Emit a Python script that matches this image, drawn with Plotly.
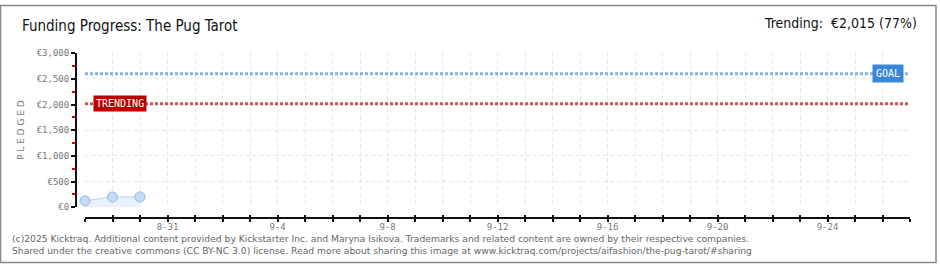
import plotly.graph_objects as go

dates = ["2025-08-28", "2025-08-29", "2025-08-30"]
pledged = [125, 200, 202]
goal = 2600
trending = 2015
x_start = "2025-08-28"
x_end = "2025-09-27"
tick_days = ["2025-08-31", "2025-09-04", "2025-09-08", "2025-09-12", "2025-09-16", "2025-09-20", "2025-09-24"]
tick_labels = ["8-31", "9-4", "9-8", "9-12", "9-16", "9-20", "9-24"]
y_ticks = [0, 500, 1000, 1500, 2000, 2500, 3000]
y_labels = ["€0", "€500", "€1,000", "€1,500", "€2,000", "€2,500", "€3,000"]
y_minor = [250, 750, 1250, 1750, 2250, 2750]

W, H = 940, 270
xd = [85 / W, 910 / W]
yd = [(H - 210) / H, (H - 50) / H]
xpos = (H - 221) / H
ypos = 76 / W
tickfont = dict(family="DejaVu Sans Mono", size=9, color="#777")

fig = go.Figure()
fig.add_trace(go.Scatter(
    x=[x_start, x_end], y=[goal, goal], mode="lines",
    line=dict(color="#7fb3ea", width=3, dash="3px,2px"), hoverinfo="skip"))
fig.add_trace(go.Scatter(
    x=[x_start, x_end], y=[trending, trending], mode="lines",
    line=dict(color="#c85858", width=3, dash="3px,2px"), hoverinfo="skip"))
fig.add_trace(go.Scatter(
    x=dates, y=pledged, mode="lines+markers", fill="tozeroy",
    fillcolor="rgba(205,225,248,0.45)", cliponaxis=False,
    line=dict(color="#b9d5f2", width=1),
    marker=dict(size=10, color="#c6dcf5", line=dict(color="#93b8e3", width=1))))

fig.update_layout(
    width=W, height=H, margin=dict(l=0, r=0, t=0, b=0),
    paper_bgcolor="white", plot_bgcolor="white", showlegend=False,
    xaxis=dict(domain=xd, range=[x_start, x_end], type="date",
               anchor="free", position=xpos,
               tickmode="array", tickvals=tick_days, ticktext=tick_labels,
               ticks="", showline=True, linecolor="#111", linewidth=2,
               tickfont=tickfont, showgrid=False, zeroline=False,
               minor=dict(dtick=86400000, tick0=x_start, ticks="outside",
                          ticklen=3, tickcolor="#111", tickwidth=1.5,
                          showgrid=True, gridcolor="#e6e6e6", griddash="4px,3px", gridwidth=1)),
    xaxis2=dict(domain=xd, range=[x_start, x_end], type="date", overlaying="x",
                anchor="free", position=xpos, showticklabels=False,
                ticks="inside", ticklen=3, tickcolor="#111", tickwidth=1.5,
                dtick=86400000, tick0=x_start, showgrid=False, showline=False, zeroline=False),
    yaxis=dict(domain=yd, range=[0, 3000], anchor="free", position=ypos,
               tickmode="array", tickvals=y_ticks, ticktext=y_labels,
               ticks="outside", ticklen=4, tickcolor="#111", tickwidth=1.5,
               showline=True, linecolor="#111", linewidth=2,
               tickfont=tickfont, showgrid=True, gridcolor="#e6e6e6", griddash="4px,3px",
               zeroline=False,
               title=dict(text="P L E D G E D", font=dict(family="DejaVu Sans", size=9, color="#777"), standoff=10),
               minor=dict(tickmode="array", tickvals=y_minor, ticks="outside", ticklen=3, tickcolor="#e00000",
                          tickwidth=1.5, showgrid=False)),
)
fig.add_trace(go.Scatter(x=[x_start], y=[None], xaxis="x2", hoverinfo="skip", showlegend=False))

fig.add_annotation(xref="paper", yref="paper", x=20 / W, y=1 - 22 / H, xanchor="left", yanchor="middle",
                   text="Funding Progress: The Pug Tarot", showarrow=False,
                   font=dict(family="DejaVu Sans Condensed", size=15, color="#111"))
fig.add_annotation(xref="paper", yref="paper", x=919 / W, y=1 - 19 / H, xanchor="right", yanchor="middle",
                   text="Trending:  €2,015 (77%)", showarrow=False,
                   font=dict(family="DejaVu Sans Condensed", size=14, color="#111"))
fig.add_annotation(xref="paper", yref="y", x=888 / W, y=goal, xanchor="center", yanchor="middle",
                   text="GOAL", showarrow=False, bgcolor="#3a87d8", borderpad=3,
                   font=dict(family="DejaVu Sans Mono", size=10, color="white"))
fig.add_annotation(xref="paper", yref="y", x=120 / W, y=trending, xanchor="center", yanchor="middle",
                   text="TRENDING", showarrow=False, bgcolor="#bb0000", borderpad=2,
                   font=dict(family="DejaVu Sans Mono", size=10, color="white"))
footer = ("(c)2025 Kicktraq. Additional content provided by Kickstarter Inc. and Maryna Isikova. "
          "Trademarks and related content are owned by their respective companies.<br>"
          "Shared under the creative commons (CC BY-NC 3.0) license. Read more about sharing this image at "
          "www.kicktraq.com/projects/aifashion/the-pug-tarot/#sharing")
fig.add_annotation(xref="paper", yref="paper", x=10 / W, y=1 - 249 / H, xanchor="left", yanchor="middle",
                   text=footer, showarrow=False, align="left",
                   font=dict(family="DejaVu Sans", size=9.2, color="#666"))
fig.add_shape(type="rect", xref="paper", yref="paper", x0=0.5 / W, x1=936 / W, y0=1 - 267.5 / H, y1=1 - 0.5 / H,
              line=dict(color="#888", width=1.5))

fig.write_html("out.html")
